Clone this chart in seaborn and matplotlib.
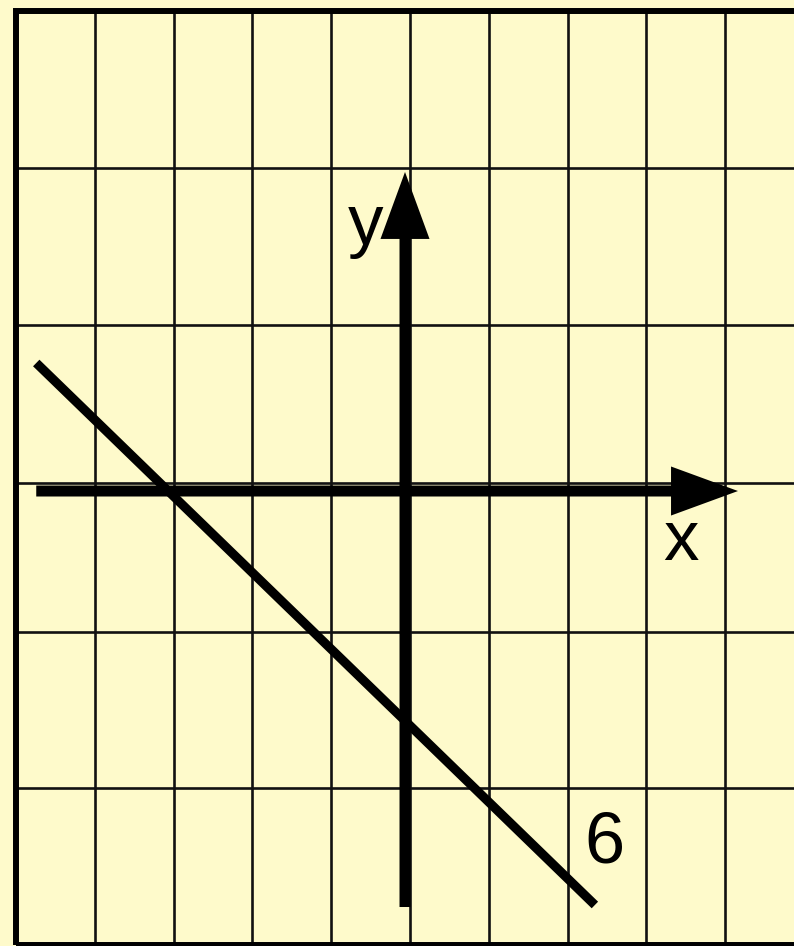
import matplotlib
matplotlib.use("Agg")
import numpy as np
import matplotlib.pyplot as plt
import seaborn as sns
from matplotlib.patches import Rectangle

# graphed line (one grid column = 1 unit, one row = 2 units)
line_x = [-4.68, 2.41]
line_y = [1.645, -5.319]
line_label = "6"

# coordinate axes: start and arrow tip
x_axis = [-4.68, 4.226]
y_axis = [-5.345, 4.099]
axis_names = ["x", "y"]

paper = "#FEFACB"
ink = "#000000"

sns.set_theme(style="white")
plt.rcParams["font.family"] = ["Liberation Sans", "DejaVu Sans"]

fig = plt.figure(figsize=(7.94, 9.46), dpi=100, facecolor=paper)
ax = fig.add_axes([0, 0, 1, 1])
ax.set_facecolor(paper)
ax.set_xlim(-5.140, 4.937)
ax.set_ylim(-5.846, 6.309)
ax.axis("off")

# grid paper (hand drawn, rows not quite even)
grid_x = -4.937 + np.arange(0, 11)
grid_top, grid_bottom = 6.167, -5.833
grid_rows = [4.150, 2.133, 0.103, -1.811, -3.815]
ax.vlines(grid_x[1:], grid_bottom, grid_top, color="#111111", lw=1.9, zorder=1)
ax.hlines(grid_rows, grid_x[0], grid_x[-1] + 1, color="#111111", lw=1.9, zorder=1)
ax.add_patch(Rectangle((grid_x[0], grid_bottom), 11, grid_top - grid_bottom,
                       fill=False, ec=ink, lw=4.3, zorder=2))

# the line
sns.lineplot(x=line_x, y=line_y, ax=ax, color=ink, lw=6.6,
             solid_capstyle="butt", zorder=3)

# axes with arrow heads
arrow = dict(arrowstyle="simple,head_length=48.2,head_width=35.3,tail_width=7.9",
             mutation_scale=1, color=ink, lw=0, shrinkA=0, shrinkB=0)
ax.annotate("", xy=(x_axis[1], 0), xytext=(x_axis[0], 0), arrowprops=arrow, zorder=4)
ax.annotate("", xy=(0, y_axis[1]), xytext=(0, y_axis[0]), arrowprops=arrow, zorder=4)

ax.text(3.496, -0.887, axis_names[0], fontsize=51, color=ink, ha="center", va="baseline")
ax.text(-0.501, 3.174, axis_names[1], fontsize=51, color=ink, ha="center", va="baseline")
ax.text(2.532, -4.767, line_label, fontsize=52, color=ink, ha="center", va="baseline")

fig.savefig("out.png", dpi=100, facecolor=paper)
plt.close(fig)
